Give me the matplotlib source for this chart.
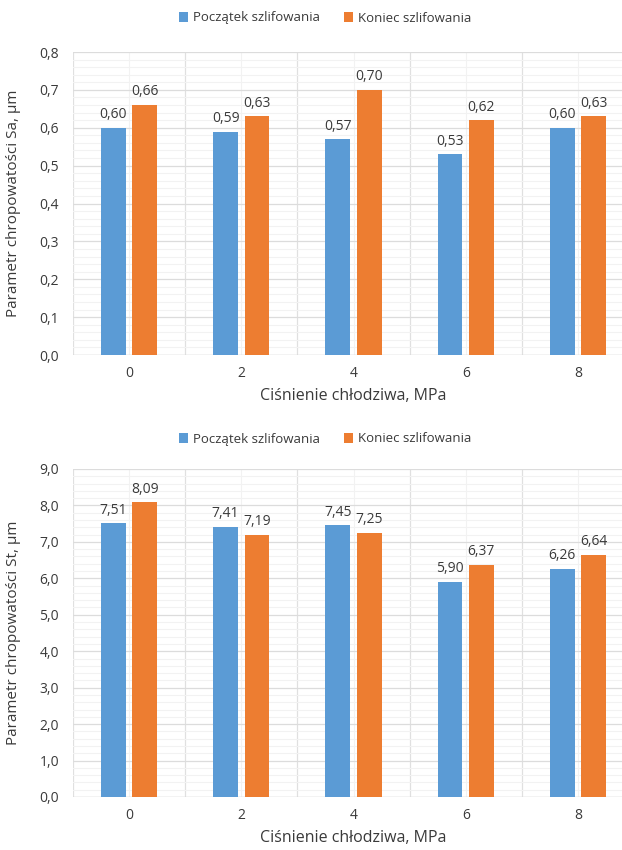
import numpy as np
import matplotlib.pyplot as plt
from matplotlib.ticker import MultipleLocator, FuncFormatter

plt.rcParams['font.family'] = ['Open Sans', 'DejaVu Sans']

# ciśnienie chłodziwa (MPa)
cisnienie = ['0', '2', '4', '6', '8']
serie = ['Początek szlifowania', 'Koniec szlifowania']

# parametr Sa, µm
sa_poczatek = [0.60, 0.59, 0.57, 0.53, 0.60]
sa_koniec = [0.66, 0.63, 0.70, 0.62, 0.63]

# parametr St, µm
st_poczatek = [7.51, 7.41, 7.45, 5.90, 6.26]
st_koniec = [8.09, 7.19, 7.25, 6.37, 6.64]

kolory = ['#5B9BD5', '#ED7D31']
tekst = '#3A3A3A'
W, H = 622, 850


def panel(ax, wartosci, ymax, krok, ylabel):
    x = np.arange(len(cisnienie))
    szer = 0.22
    for i, (v, c) in enumerate(zip(wartosci, kolory)):
        off = (i - 0.5) * 0.28
        bars = ax.bar(x + off, v, szer, color=c, label=serie[i], zorder=3)
        for b, val in zip(bars, v):
            ax.annotate(f'{val:.2f}'.replace('.', ','),
                        (b.get_x() + b.get_width() / 2, val),
                        xytext=(0, 4), textcoords='offset points',
                        ha='center', va='bottom', fontsize=10, color=tekst)
    ax.set_xlim(-0.5, len(cisnienie) - 0.5)
    ax.set_ylim(0, ymax)
    ax.set_xticks(x)
    ax.set_xticklabels(cisnienie)
    ax.yaxis.set_major_locator(MultipleLocator(krok))
    ax.yaxis.set_minor_locator(MultipleLocator(krok / 5))
    ax.yaxis.set_major_formatter(FuncFormatter(lambda v, p: f'{v:.1f}'.replace('.', ',')))
    # siatka: linie główne na granicach kategorii, pomocnicze jaśniejsze
    ax.grid(True, axis='y', which='major', color='#DCDCDC', lw=0.9, zorder=0)
    ax.grid(True, axis='y', which='minor', color='#F2F2F2', lw=0.8, zorder=0)
    for xv in np.arange(-0.5, len(cisnienie)):
        ax.axvline(xv, color='#E0E0E0', lw=0.9, zorder=0)
    for xv in x:
        ax.axvline(xv, color='#F2F2F2', lw=0.8, zorder=0)
    for s in ax.spines.values():
        s.set_visible(False)
    ax.axhline(0, color='#D9D9D9', lw=1.0, zorder=2)
    ax.tick_params(which='both', length=0, colors=tekst, labelsize=10)
    ax.tick_params(axis='y', pad=10)
    ax.tick_params(axis='x', pad=8)
    ax.set_xlabel('Ciśnienie chłodziwa, MPa', fontsize=11.5, color=tekst, labelpad=5)
    ax.set_ylabel(ylabel, fontsize=11, color=tekst)
    ax.yaxis.set_label_coords(-0.092, 0.5)


fig = plt.figure(figsize=(W / 100, H / 100), dpi=100)
left, right = 73 / W, 634 / W

ax1 = fig.add_axes([left, 1 - 355 / H, right - left, (355 - 52) / H])
panel(ax1, [sa_poczatek, sa_koniec], 0.8, 0.1, 'Parametr chropowatości Sa, µm')

ax2 = fig.add_axes([left, 1 - 797 / H, right - left, (797 - 469) / H])
panel(ax2, [st_poczatek, st_koniec], 9.0, 1.0, 'Parametr chropowatości St, µm')

for ax, y in [(ax1, 18), (ax2, 439)]:
    h, l = ax.get_legend_handles_labels()
    fig.legend(h, l, loc='center', bbox_to_anchor=(325 / W, 1 - y / H), ncol=2,
               frameon=False, fontsize=9.5, handlelength=0.7, handleheight=0.7,
               handletextpad=0.35, columnspacing=1.8, labelcolor=tekst)

fig.savefig('out.png', dpi=100)
